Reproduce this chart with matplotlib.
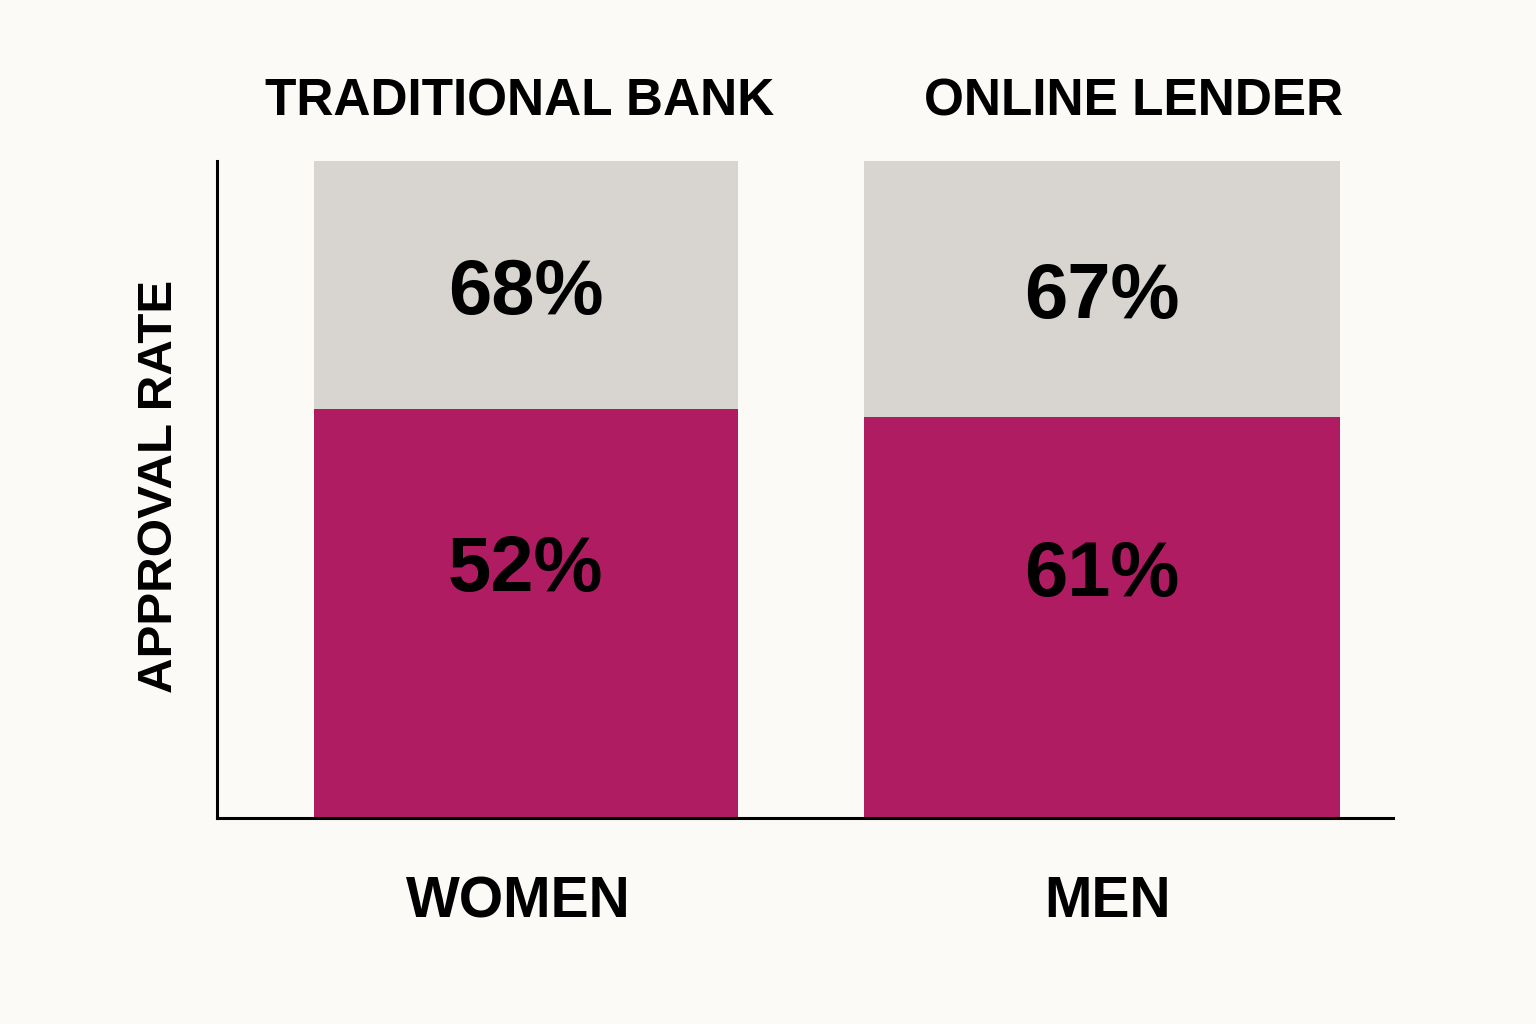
import matplotlib.pyplot as plt

# data
groups = ['WOMEN', 'MEN']
lenders = ['TRADITIONAL BANK', 'ONLINE LENDER']
top_labels = [68, 67]          # figures printed in the grey part
bottom_labels = [52, 61]       # figures printed in the magenta part
full_height = [100, 100]       # grey bar height (axis scale)
magenta_height = [62.2, 61.0]  # magenta bar height (axis scale)

bg = '#FBFAF6'
grey = '#D8D5D0'
magenta = '#B01C62'
font = 'Liberation Sans'

W, H = 1536, 1024
fig = plt.figure(figsize=(W / 100, H / 100), dpi=100, facecolor=bg)

# axes box in pixels: left 217, right 1393, top 161, bottom 818
ax = fig.add_axes([217 / W, 1 - 818 / H, (1393 - 217) / W, (818 - 161) / H])
ax.set_facecolor(bg)

xpos = [0, 1]
widths = [0.736, 0.826]
ax.bar(xpos, full_height, width=widths, color=grey, zorder=1)
ax.bar(xpos, magenta_height, width=widths, color=magenta, zorder=2)

ax.set_xlim(-0.536, 1.505)
ax.set_ylim(0, 100)

for i in range(len(xpos)):
    y_top = (magenta_height[i] + full_height[i]) / 2
    y_bot = magenta_height[i] * 0.625
    for y, v in [(y_top, top_labels[i]), (y_bot, bottom_labels[i])]:
        ax.annotate(f'{v}%', (xpos[i], y), xytext=(0, -20.5), textcoords='offset points',
                    ha='center', va='baseline', fontsize=56, fontweight='bold',
                    family=font, color='black', zorder=3)

for s in ['top', 'right']:
    ax.spines[s].set_visible(False)
for s in ['left', 'bottom']:
    ax.spines[s].set_linewidth(2.2)
    ax.spines[s].set_color('black')
ax.set_xticks([])
ax.set_yticks([])

# lender titles above the bars
title_x = [520, 1134]
for tx, t in zip(title_x, lenders):
    fig.text(tx / W, 1 - 115 / H, t, ha='center', va='baseline', fontsize=37,
             fontweight='bold', family=font, color='black')

# group labels below
group_x = [518, 1108]
for gx, g in zip(group_x, groups):
    fig.text(gx / W, 1 - 917 / H, g, ha='center', va='baseline', fontsize=41,
             fontweight='bold', family=font, color='black')

fig.text(172 / W, 1 - 486 / H, 'APPROVAL RATE', rotation=90, rotation_mode='anchor',
         ha='center', va='baseline', fontsize=35.5, fontweight='bold', family=font,
         color='black')

plt.savefig('out.png', dpi=100, facecolor=bg)
